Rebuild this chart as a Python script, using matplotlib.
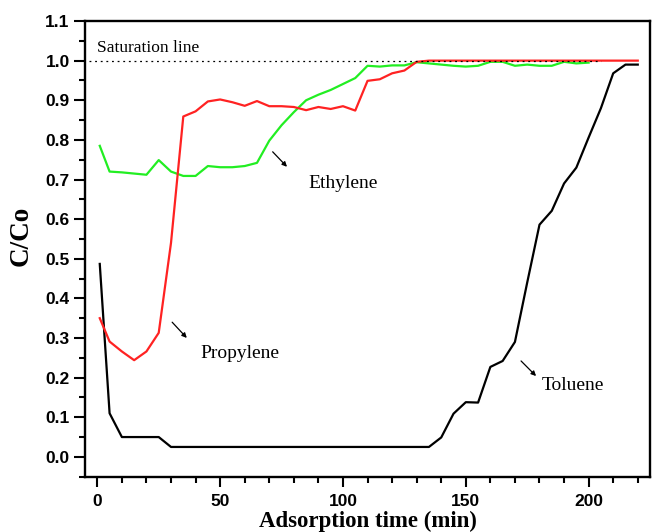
import matplotlib.pyplot as plt
import numpy as np
from matplotlib.ticker import MultipleLocator

# sampling times (min)
t_toluene = [1, 5, 10, 15, 20, 25, 30, 35, 40, 45, 50, 55, 60, 65, 70, 75, 80, 85, 90,
             95, 100, 105, 110, 115, 120, 125, 130, 135, 140, 145, 150, 155, 160, 165,
             170, 175, 180, 185, 190, 195, 200, 205, 210, 215, 220]
c_toluene = [0.487, 0.11, 0.05, 0.05, 0.05, 0.05, 0.025, 0.025, 0.025, 0.025, 0.025,
             0.025, 0.025, 0.025, 0.025, 0.025, 0.025, 0.025, 0.025, 0.025, 0.025,
             0.025, 0.025, 0.025, 0.025, 0.025, 0.025, 0.025, 0.049, 0.109, 0.138,
             0.137, 0.227, 0.242, 0.29, 0.44, 0.586, 0.621, 0.69, 0.73, 0.806, 0.88,
             0.968, 0.99, 0.99]

t_propylene = [1, 5, 10, 15, 20, 25, 30, 35, 40, 45, 50, 55, 60, 65, 70, 75, 80, 85, 90,
               95, 100, 105, 110, 115, 120, 125, 130, 135, 140, 145, 150, 155, 160, 165,
               170, 175, 180, 185, 190, 195, 200, 205, 210, 215, 220]
c_propylene = [0.35, 0.291, 0.266, 0.244, 0.266, 0.313, 0.54, 0.859, 0.872, 0.897, 0.902,
               0.895, 0.886, 0.898, 0.885, 0.885, 0.883, 0.875, 0.883, 0.878, 0.885,
               0.874, 0.949, 0.953, 0.968, 0.975, 0.997, 1.0, 1.0, 1.0, 1.0, 1.0, 1.0,
               1.0, 1.0, 1.0, 1.0, 1.0, 1.0, 1.0, 1.0, 1.0, 1.0, 1.0, 1.0]

t_ethylene = [1, 5, 10, 15, 20, 25, 30, 35, 40, 45, 50, 55, 60, 65, 70, 75, 80, 85, 90,
              95, 100, 105, 110, 115, 120, 125, 130, 135, 140, 145, 150, 155, 160, 165,
              170, 175, 180, 185, 190, 195, 200]
c_ethylene = [0.785, 0.72, 0.718, 0.715, 0.712, 0.749, 0.72, 0.709, 0.709, 0.734, 0.731,
              0.731, 0.734, 0.742, 0.798, 0.837, 0.87, 0.9, 0.914, 0.926, 0.941, 0.956,
              0.987, 0.985, 0.988, 0.988, 0.996, 0.993, 0.99, 0.987, 0.985, 0.987,
              0.997, 0.997, 0.987, 0.99, 0.987, 0.987, 0.997, 0.993, 0.995]

fig = plt.figure(figsize=(6.52, 5.32), dpi=100)
ax = fig.add_axes([0.1304, 0.104, 0.8666, 0.8565])

ax.plot(t_toluene, c_toluene, color='black', lw=1.6, zorder=3)
ax.plot(t_ethylene, c_ethylene, color='#22ee22', lw=1.6, zorder=3)
ax.plot(t_propylene, c_propylene, color='#ff2222', lw=1.6, zorder=4)

# saturation line
ax.plot([-3.5, 205], [1.0, 1.0], color='black', lw=0.9, ls=(0, (1.5, 3)), zorder=5)

serif = 'Liberation Serif'
ax.text(0, 1.033, 'Saturation line', family=serif, fontsize=12.5, va='center')
ax.text(86, 0.69, 'Ethylene', family=serif, fontsize=14, va='center')
ax.text(42, 0.26, 'Propylene', family=serif, fontsize=14, va='center')
ax.text(181, 0.18, 'Toluene', family=serif, fontsize=14, va='center')

arrow = dict(arrowstyle='-|>', color='black', lw=0.9, mutation_scale=7)
ax.annotate('', xy=(78, 0.727), xytext=(70.6, 0.775), arrowprops=arrow)
ax.annotate('', xy=(37.2, 0.295), xytext=(29.7, 0.345), arrowprops=arrow)
ax.annotate('', xy=(179.4, 0.199), xytext=(171.7, 0.247), arrowprops=arrow)

ax.set_xlim(-5, 225)
ax.set_ylim(-0.05, 1.1)
ax.xaxis.set_major_locator(MultipleLocator(50))
ax.xaxis.set_minor_locator(MultipleLocator(10))
ax.yaxis.set_major_locator(MultipleLocator(0.1))
ax.yaxis.set_minor_locator(MultipleLocator(0.05))
ax.yaxis.set_major_formatter(plt.FuncFormatter(lambda v, p: f'{v:.1f}'))

for s in ax.spines.values():
    s.set_linewidth(1.7)
ax.tick_params(which='both', direction='out', width=1.5, top=False, right=False)
ax.tick_params(axis='y', which='major', length=8, pad=3)
ax.tick_params(axis='y', which='minor', length=4.5)
ax.tick_params(axis='x', which='major', length=7.5, pad=5)
ax.tick_params(axis='x', which='minor', length=4.5)
for lab in ax.get_xticklabels() + ax.get_yticklabels():
    lab.set_family('Liberation Sans')
    lab.set_fontweight('bold')
    lab.set_fontsize(12.5)

ax.set_xlabel('Adsorption time (min)', family=serif, fontweight='bold', fontsize=16.5, labelpad=1.5)
ylab = ax.set_ylabel('C/Co', family=serif, fontweight='bold', fontsize=19.5)
ax.yaxis.set_label_coords(-0.113, 0.528)
ylab.set_va('center')

fig.savefig('out.png', dpi=100)
